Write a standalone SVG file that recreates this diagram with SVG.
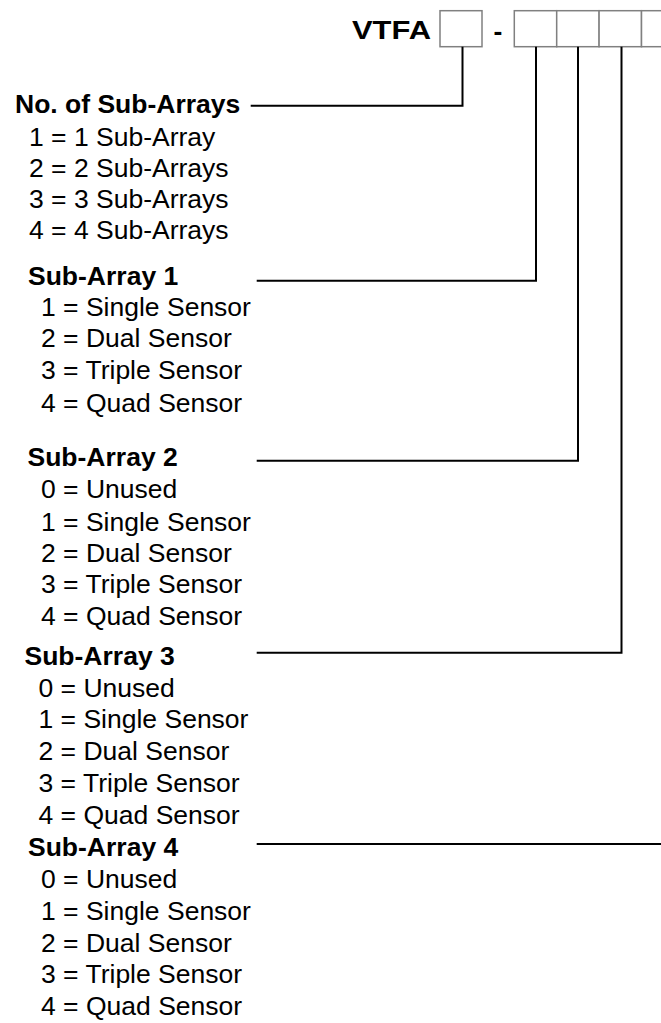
<svg xmlns="http://www.w3.org/2000/svg" width="661" height="1023" viewBox="0 0 661 1023">
<style>
.t{font-family:"Liberation Sans",Arial,sans-serif;font-size:26.5px;fill:#000}
.b{font-weight:bold}
.box{fill:#fff;stroke:#808080;stroke-width:1.5}
.c{fill:none;stroke:#000;stroke-width:2}
</style>
<rect width="661" height="1023" fill="#fff"/>
<g id="header">
<text class="t b" x="352" y="38.5" font-size="32.5" textLength="79" lengthAdjust="spacingAndGlyphs">VTFA</text>
<rect class="box" x="440" y="10.7" width="42" height="36"/>
<text class="t b" x="493.5" y="39.6" font-size="38">-</text>
<rect class="box" x="514.3" y="10.7" width="42.4" height="36"/>
<rect class="box" x="556.7" y="10.7" width="42.4" height="36"/>
<rect class="box" x="599.1" y="10.7" width="42.4" height="36"/>
<rect class="box" x="641.5" y="10.7" width="42.4" height="36"/>
</g>
<g id="connectors">
<polyline class="c" points="250.7,105.7 462.5,105.7 462.5,46.7"/>
<polyline class="c" points="256.7,280.7 536,280.7 536,46.7"/>
<polyline class="c" points="256.7,460.7 578,460.7 578,46.7"/>
<polyline class="c" points="256.7,652.8 621.5,652.8 621.5,46.7"/>
<line class="c" x1="256.7" y1="844" x2="661" y2="844"/>
</g>
<g id="no-of-sub-arrays">
<text class="t b" x="15" y="113.3">No. of Sub-Arrays</text>
<text class="t" x="29" y="145.7">1 = 1 Sub-Array</text>
<text class="t" x="29" y="176.7">2 = 2 Sub-Arrays</text>
<text class="t" x="29" y="207.7">3 = 3 Sub-Arrays</text>
<text class="t" x="29" y="238.7">4 = 4 Sub-Arrays</text>
</g>
<g id="sub-array-1">
<text class="t b" x="28" y="285">Sub-Array 1</text>
<text class="t" x="41" y="315.7">1 = Single Sensor</text>
<text class="t" x="41" y="347.3">2 = Dual Sensor</text>
<text class="t" x="41" y="379">3 = Triple Sensor</text>
<text class="t" x="41" y="411.5">4 = Quad Sensor</text>
</g>
<g id="sub-array-2">
<text class="t b" x="27.5" y="466">Sub-Array 2</text>
<text class="t" x="41" y="498.3">0 = Unused</text>
<text class="t" x="41" y="530.7">1 = Single Sensor</text>
<text class="t" x="41" y="561.7">2 = Dual Sensor</text>
<text class="t" x="41" y="593.3">3 = Triple Sensor</text>
<text class="t" x="41" y="625">4 = Quad Sensor</text>
</g>
<g id="sub-array-3">
<text class="t b" x="24.5" y="665">Sub-Array 3</text>
<text class="t" x="38.5" y="696.7">0 = Unused</text>
<text class="t" x="38.5" y="728.3">1 = Single Sensor</text>
<text class="t" x="38.5" y="760">2 = Dual Sensor</text>
<text class="t" x="38.5" y="791.7">3 = Triple Sensor</text>
<text class="t" x="38.5" y="824.3">4 = Quad Sensor</text>
</g>
<g id="sub-array-4">
<text class="t b" x="28" y="856">Sub-Array 4</text>
<text class="t" x="41" y="888.3">0 = Unused</text>
<text class="t" x="41" y="920">1 = Single Sensor</text>
<text class="t" x="41" y="952.3">2 = Dual Sensor</text>
<text class="t" x="41" y="983.3">3 = Triple Sensor</text>
<text class="t" x="41" y="1015">4 = Quad Sensor</text>
</g>
</svg>
